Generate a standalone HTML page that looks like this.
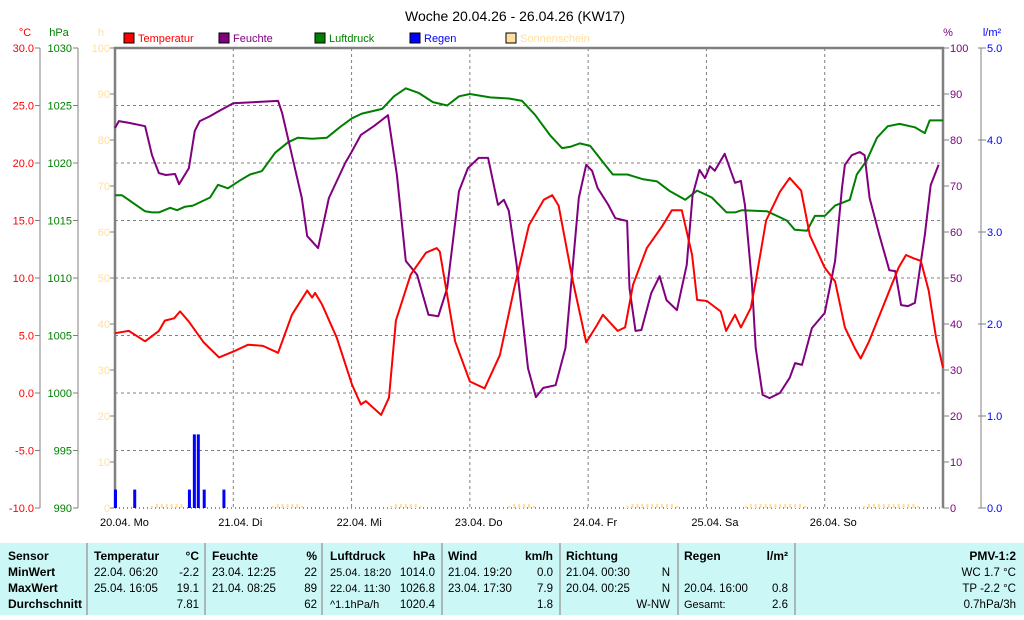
<!DOCTYPE html>
<html><head><meta charset="utf-8"><style>
body{margin:0;background:#fff;}
svg text{font-family:"Liberation Sans",sans-serif;}
</style></head><body>
<svg id="c" width="1024" height="615" viewBox="0 0 1024 615" xmlns="http://www.w3.org/2000/svg">
<rect x="0" y="0" width="1024" height="615" fill="#fff"/>
<text x="515" y="21" font-size="14" text-anchor="middle" fill="#000">Woche 20.04.26 - 26.04.26 (KW17)</text>
<g id="legend" font-size="11">
 <g><rect x="124" y="33" width="10" height="10" fill="#f00" stroke="#000"/><text x="138" y="42" fill="#f00">Temperatur</text></g>
 <g><rect x="219" y="33" width="10" height="10" fill="#800080" stroke="#000"/><text x="233" y="42" fill="#800080">Feuchte</text></g>
 <g><rect x="315" y="33" width="10" height="10" fill="#008000" stroke="#000"/><text x="329" y="42" fill="#008000">Luftdruck</text></g>
 <g><rect x="410" y="33" width="10" height="10" fill="#00f" stroke="#000"/><text x="424" y="42" fill="#00f">Regen</text></g>
 <g><rect x="506" y="33" width="10" height="10" fill="#ffdfa0" stroke="#000"/><text x="520" y="42" fill="#ffdfa0">Sonnenschein</text></g>
</g>
<g id="axes"></g>
<g id="grid"></g>
<g id="bars"></g>
<g id="lines"></g>
<g id="table"></g>
</svg>
<script>
const days = ["20.04. Mo","21.04. Di","22.04. Mi","23.04. Do","24.04. Fr","25.04. Sa","26.04. So"];
const tempTicks = ["30.0","25.0","20.0","15.0","10.0","5.0","0.0","-5.0","-10.0"];
const hpaTicks = ["1030","1025","1020","1015","1010","1005","1000","995","990"];
const hTicks = ["100","90","80","70","60","50","40","30","20","10","0"];
const humTicks = ["100","90","80","70","60","50","40","30","20","10","0"];
const rainTicks = ["5.0","4.0","3.0","2.0","1.0","0.0"];

const tempTimes = [0,2.8,6.1,8.9,10.1,12,13.2,15,18,21.1,24,27,30,33.1,35.9,39,40,40.6,42,45,48.1,49.9,50.9,54,55.6,57,60,63.1,65.3,65.9,69,72,75,78.1,81,84,87,88.7,90,92.9,95.6,97.8,99,102,103.5,105.1,107.9,111,113,115,117.1,118.1,120.1,122.9,124,125.8,127,129,130,132.1,134.9,136.9,139.2,141,144,146.1,148.1,150.1,151.3,153,156,159,160.5,162.1,163.5,165.1,166.6,168];
const tempVals = [5.2,5.4,4.5,5.4,6.3,6.5,7.1,6.2,4.4,3.1,3.6,4.2,4.1,3.5,6.8,8.9,8.3,8.7,7.7,4.8,0.7,-1.0,-0.7,-1.9,-0.4,6.3,10.3,12.2,12.6,12.3,4.5,1.0,0.4,3.3,9.1,14.6,16.8,17.2,16.3,9.7,4.4,5.9,6.8,5.4,5.7,9.4,12.6,14.5,15.9,15.9,12.0,8.1,8.0,7.1,5.4,6.8,5.7,7.4,9.7,15.0,17.5,18.7,17.6,13.7,10.9,9.7,5.7,3.9,3.0,4.5,7.7,10.9,12.0,11.7,11.5,8.9,4.8,2.2];

const humTimes = [0,0.8,3.0,6.1,7.5,8.9,10.3,12.2,13,15,16.2,17.2,19.3,21.1,24,33.1,33.9,35.9,37.9,39,41.2,43.4,46.7,47.9,49.9,52.5,55.4,57.2,59.0,61.3,63.6,65.6,67.4,69.8,71.6,73.8,75.7,77.7,78.9,79.9,81.5,83.8,85.4,86.9,89.4,91.4,94.1,95.6,96.8,97.9,100.1,101.5,103.9,104.4,105.6,106.8,108.8,110.5,111.9,114,116,117.2,118.6,119.7,120.7,121.7,123.7,125.8,127,127.8,129.2,130,131.4,132.8,134.9,136.9,138,139.4,141.4,144,146.1,147.5,148.1,149.5,151.1,152.1,153.1,155.1,157.1,158.3,159.5,160.9,162.3,164.3,165.5,167.1];
const humVals = [82.6,84.1,83.7,83.0,76.7,72.8,72.4,72.6,70.4,73.9,82.0,84.1,85.2,86.3,88.0,88.5,85.9,76.7,67.4,59.1,56.5,67.4,75.0,77.2,81.1,83.0,85.4,72.4,53.7,50.7,42.0,41.7,47.8,68.9,73.9,76.1,76.1,65.9,67.0,64.6,52.8,30.4,24.1,26.1,26.7,34.8,67.4,74.6,73.3,69.6,65.9,63.0,62.4,47.8,38.5,38.7,46.7,50.4,45.2,43.0,52.8,68.0,73.5,71.7,74.3,73.3,77.0,70.7,71.1,65.9,49.3,34.8,24.6,23.9,25.0,28.3,31.5,31.1,39.1,42.4,53.7,69.6,74.6,76.7,77.4,76.7,67.4,59.3,51.7,51.5,44.1,43.9,44.6,59.3,70.2,74.6];

const presTimes = [0,1.4,6.1,7.5,8.9,11.2,12.6,14.2,15.8,19.3,20.9,22.9,25.4,27.4,29.8,32.5,35.1,37.1,40,43,45.6,48.1,50.1,54.2,56.6,59.0,61.6,64.5,67.4,69.8,72,76.1,80.1,82.6,85.2,88.3,90.7,92.3,94.3,96.4,98.4,101,104,107,110,112.4,115.7,118.1,121.1,124.1,125.8,127.2,132.3,136.3,137.9,140.4,142,144,146.1,149.1,150.5,152.5,154.6,156.8,159.2,162.3,164.3,165.3,168];
const presVals = [1017.2,1017.2,1015.8,1015.7,1015.7,1016.1,1015.9,1016.2,1016.3,1017.0,1018.1,1017.8,1018.5,1019.0,1019.3,1020.9,1021.8,1022.2,1022.1,1022.2,1023.1,1023.9,1024.3,1024.7,1025.8,1026.5,1026.1,1025.3,1025.0,1025.8,1026.0,1025.7,1025.6,1025.4,1024.2,1022.4,1021.3,1021.4,1021.7,1021.5,1020.4,1019.0,1019.0,1018.6,1018.4,1017.6,1016.8,1017.6,1017.0,1015.7,1015.7,1015.9,1015.8,1015.0,1014.2,1014.1,1015.4,1015.4,1016.3,1016.8,1019.0,1020.2,1022.2,1023.2,1023.4,1023.1,1022.6,1023.7,1023.7];

const rainTimes = [0,3.9,15,16,16.8,18,22];
const rainVals = [0.2,0.2,0.2,0.8,0.8,0.2,0.2];

const sunTimes = [7.5,8.5,9.5,10.5,11.5,12.5,13.5,32,33,34,35,36,37,38,56,57,58,59,60,61,62,80,81,82,83,84,85,104,105,106,107,108,109,110,111,112,113,114,128,129,130,131,132,133,134,135,136,137,138,139,140,152,153,154,155,156,157,158,159,160,161,162,163];
const sunVals = [0.5,1,1,1,1,1,1,0.5,1,1,1,1,1,0.5,0.5,1,1,1,1,1,0.5,0.5,1,1,1,1,0.5,0.5,1,1,1,1,1,1,1,1,1,0.5,0.5,1,1,1,1,1,1,1,1,1,1,1,0.5,0.5,1,1,1,1,1,1,1,1,1,1,0.5];

const NS="http://www.w3.org/2000/svg";
const L=115,R=943,T=48,B=508;
const xH=h=>L+h*(R-L)/168;
const yT=v=>T+(30-v)*(B-T)/40;
const yP=v=>T+(1030-v)*(B-T)/40;
const yHum=v=>T+(100-v)*(B-T)/100;
const yRain=v=>T+(5-v)*(B-T)/5;
const ySun=v=>T+(100-v)*(B-T)/100;
function mk(tag,attrs,parent){const e=document.createElementNS(NS,tag);for(const k in attrs)e.setAttribute(k,attrs[k]);parent.appendChild(e);return e;}
function txt(s,attrs,parent){const e=mk('text',attrs,parent);e.textContent=s;return e;}
const ax=document.getElementById('axes'),gr=document.getElementById('grid'),bars=document.getElementById('bars'),ln=document.getElementById('lines'),tb=document.getElementById('table');

[["°C",25,"#f00"],["hPa",59,"#008000"],["h",101,"#ffdfa0"],["%",948,"#800080"],["l/m²",992,"#00f"]].forEach(u=>{
 const t=txt(u[0],{x:u[1],y:36,'font-size':11,fill:u[2],'text-anchor':'middle'},ax);
 
 
});
mk('line',{x1:40,y1:T,x2:40,y2:B,stroke:'#808080'},ax);
mk('line',{x1:78,y1:T,x2:78,y2:B,stroke:'#808080'},ax);
mk('line',{x1:981,y1:T,x2:981,y2:B,stroke:'#808080'},ax);
tempTicks.forEach((s,i)=>{const y=yT(30-5*i);
 mk('line',{x1:35,y1:y,x2:40,y2:y,stroke:'#808080'},ax);
 const t=txt(s,{x:34,y:y+4,'font-size':11,fill:'#f00','text-anchor':'end'},ax);
 
 });
hpaTicks.forEach((s,i)=>{const y=yP(1030-5*i);
 mk('line',{x1:73,y1:y,x2:78,y2:y,stroke:'#808080'},ax);
 const t=txt(s,{x:72,y:y+4,'font-size':11,fill:'#008000','text-anchor':'end'},ax);
 
 });
hTicks.forEach((s,i)=>{const y=ySun(100-10*i);
 mk('line',{x1:110,y1:y,x2:114,y2:y,stroke:'#808080'},ax);
 const t=txt(s,{x:110,y:y+4,'font-size':11,fill:'#ffdfa0','text-anchor':'end'},ax);
 
 });
humTicks.forEach((s,i)=>{const y=yHum(100-10*i);
 mk('line',{x1:943,y1:y,x2:949,y2:y,stroke:'#808080'},ax);
 const t=txt(s,{x:950,y:y+4,'font-size':11,fill:'#800080'},ax);
 
 });
rainTicks.forEach((s,i)=>{const y=yRain(5-i);
 mk('line',{x1:978,y1:y,x2:986,y2:y,stroke:'#808080'},ax);
 const t=txt(s,{x:987,y:y+4,'font-size':11,fill:'#00f'},ax);
 
 });
days.forEach((d,i)=>{const x=xH(24*i);
 const t=txt(d,{x:x-15,y:526,'font-size':11,fill:'#000'},ax);
 
 
 if(i>0){const g=mk('line',{x1:x,y1:T,x2:x,y2:B,stroke:'#808080','stroke-dasharray':'3,3'},gr);
  
  }
});
for(let i=1;i<8;i++){const y=yT(30-5*i);
 const g=mk('line',{x1:L,y1:y,x2:R,y2:y,stroke:'#808080','stroke-dasharray':'3,3'},gr);
 
 }
const fr=mk('path',{d:`M${L},${B} L${L},${T} L${R},${T} L${R},${B}`,fill:'none',stroke:'#808080','stroke-width':2.5},ax);


mk('line',{x1:L,y1:B,x2:R,y2:B,stroke:'#00f','stroke-dasharray':'1,3'},bars);
sunTimes.forEach((t,i)=>{const x=xH(t),y=ySun(sunVals[i]*0.9);
 const r=mk('rect',{x:x-1,y:y,width:2,height:B-y,fill:'#ffdfa0'},bars);
 
 });
rainTimes.forEach((t,i)=>{const x=xH(t),y=yRain(rainVals[i]);
 const r=mk('rect',{x:x-1,y:y,width:3,height:B-y,fill:'#00f'},bars);
 
 });
function line(ts,vs,fy,color,name){
 const d=ts.map((t,i)=>(i?'L':'M')+xH(t).toFixed(1)+','+fy(vs[i]).toFixed(1)).join(' ');
 const p=mk('path',{d:d,fill:'none',stroke:color,'stroke-width':2,'stroke-linejoin':'round'},ln);
 
 }
line(presTimes,presVals,yP,'#008000','pressure-line');
line(humTimes,humVals,yHum,'#800080','humidity-line');
line(tempTimes,tempVals,yT,'#f00','temperature-line');

const bg=mk('rect',{x:0,y:543,width:1024,height:72,fill:'#ccf7f7'},tb);


[87,205,322,442,560,678,795].forEach(x=>mk('line',{x1:x,y1:543,x2:x,y2:615,stroke:'#a0a0a0','stroke-width':1.5},tb));
const rowsY=[560,576,592,608];
const cells=[
 [8,'start',['Sensor','MinWert','MaxWert','Durchschnitt'],true],
 [94,'start',['Temperatur','22.04.  06:20','25.04.  16:05',''],false],
 [199,'end',['°C','-2.2','19.1','7.81'],false],
 [212,'start',['Feuchte','23.04.  12:25','21.04.  08:25',''],false],
 [317,'end',['%','22','89','62'],false],
 [330,'start',['Luftdruck','25.04.  18:20','22.04.  11:30','^1.1hPa/h'],false],
 [435,'end',['hPa','1014.0','1026.8','1020.4'],false],
 [448,'start',['Wind','21.04.  19:20','23.04.  17:30',''],false],
 [553,'end',['km/h','0.0','7.9','1.8'],false],
 [566,'start',['Richtung','21.04.  00:30','20.04.  00:25',''],false],
 [670,'end',['','N','N','W-NW'],false],
 [684,'start',['Regen','','20.04.  16:00','Gesamt:'],false],
 [788,'end',['l/m²','','0.8','2.6'],false],
 [1016,'end',['PMV-1:2','WC 1.7 °C','TP -2.2 °C','0.7hPa/3h'],false]
];
cells.forEach(c=>{c[2].forEach((s,r)=>{if(!s)return;
 const bold=(r===0)||c[3];
 const t=txt(s,{x:c[0],y:rowsY[r],'font-size':(bold?12:11.5),'font-weight':bold?'bold':'normal','text-anchor':c[1],fill:'#000'},tb);
 if(s==='Gesamt:'||s==='^1.1hPa/h') t.setAttribute('font-size',11);
 if(c[0]===330&&r>0&&r<3) t.setAttribute('font-size',11);
 
 
 t.setAttribute('xml:space','preserve');
});});
</script>
</body></html>
